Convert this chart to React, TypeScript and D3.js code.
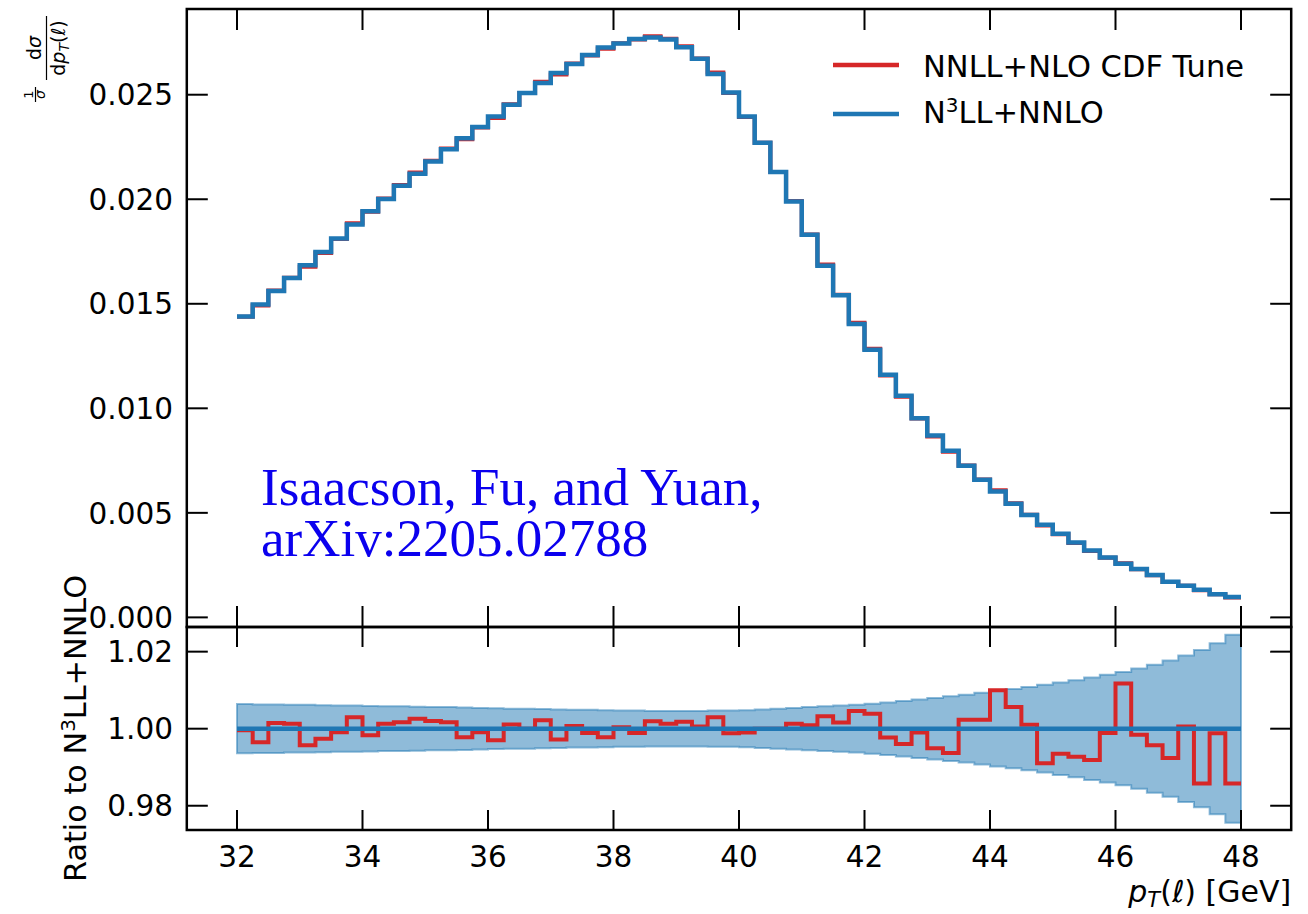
import React from 'react';
import * as d3 from 'd3';

// ---------- data ----------
const binStart = 32;
const binWidth = 0.25;

// N3LL+NNLO normalized distribution (1/sigma dsigma/dpT), one value per 0.25 GeV bin
const n3llNnlo = [
  0.01439, 0.01497, 0.01561, 0.01623, 0.01684, 0.01748, 0.01812, 0.01879,
  0.01943, 0.02001, 0.02065, 0.02122, 0.0218, 0.02239, 0.02292, 0.02345,
  0.02396, 0.02452, 0.02508, 0.02556, 0.02604, 0.02647, 0.0269, 0.02726,
  0.02745, 0.02767, 0.02774, 0.02764, 0.02727, 0.02672, 0.02599, 0.02511,
  0.02396, 0.0227, 0.0213, 0.01989, 0.0183, 0.01682, 0.01541, 0.01403,
  0.0128, 0.0116, 0.0106, 0.00952, 0.0087, 0.00797, 0.00725, 0.00658,
  0.00602, 0.00543, 0.0049, 0.00443, 0.004, 0.00358, 0.0032, 0.00286,
  0.00256, 0.00231, 0.00203, 0.00171, 0.00151, 0.00132, 0.00111, 0.00097,
];

// Ratio NNLL+NLO CDF Tune / N3LL+NNLO
const ratioCdf = [
  0.9996, 0.9965, 1.0015, 1.0013, 0.9957, 0.9974, 0.9991, 1.003,
  0.9983, 1.0013, 1.0017, 1.0026, 1.002, 1.0017, 0.9978, 0.9991,
  0.997, 1.0011, 1.0, 1.0022, 0.9972, 1.0007, 0.9989, 0.9978,
  1.0004, 0.9989, 1.0019, 1.0013, 1.0018, 1.0006, 1.003, 0.9988,
  0.999, 1.0, 1.0, 1.0013, 1.0009, 1.0032, 1.0016, 1.0046,
  1.0039, 0.9977, 0.996, 0.999, 0.9949, 0.9937, 1.0023, 1.0023,
  1.01, 1.0056, 1.001, 0.991, 0.9935, 0.9927, 0.9919, 0.9989,
  1.0117, 0.9984, 0.9957, 0.9924, 1.0006, 0.9858, 0.9988, 0.9858,
];

// Relative half-width of the N3LL+NNLO uncertainty band
const bandHalf = [
  0.0064, 0.0063, 0.0063, 0.0062, 0.0062, 0.0061, 0.006, 0.006,
  0.0059, 0.0058, 0.0058, 0.0057, 0.0056, 0.0056, 0.0055, 0.0054,
  0.0053, 0.0052, 0.0052, 0.0051, 0.005, 0.0049, 0.0049, 0.0048,
  0.0047, 0.0047, 0.0046, 0.0046, 0.0046, 0.0046, 0.0047, 0.0047,
  0.0048, 0.005, 0.0052, 0.0054, 0.0056, 0.0058, 0.006, 0.0062,
  0.0065, 0.0068, 0.0072, 0.0076, 0.008, 0.0084, 0.0088, 0.0093,
  0.0098, 0.0103, 0.0108, 0.0114, 0.012, 0.0126, 0.0133, 0.014,
  0.0147, 0.0156, 0.0166, 0.0177, 0.019, 0.0204, 0.0222, 0.0244,
];

const xTicks = [32, 34, 36, 38, 40, 42, 44, 46, 48];
const topYTicks = [0, 0.005, 0.01, 0.015, 0.02, 0.025];
const topYTickLabels = ['0.000', '0.005', '0.010', '0.015', '0.020', '0.025'];
const botYTicks = [0.98, 1.0, 1.02];
const botYTickLabels = ['0.98', '1.00', '1.02'];

const RED = '#d62728';
const BLUE = '#1f77b4';
const FONT = 'DejaVu Sans, sans-serif';

export default function App() {
  const W = 1308, H = 914;
  const left = 186.8, right = 1291.2;
  const topT = 9, topB = 627, botT = 627, botB = 830;

  const x = d3.scaleLinear().domain([31.2, 48.8]).range([left, right]);
  const yT = d3.scaleLinear().domain([-0.00046, 0.0291]).range([topB, topT]);
  const yB = d3.scaleLinear().domain([0.9737, 1.0264]).range([botB, botT]);

  const edges = d3.range(n3llNnlo.length + 1).map((i) => binStart + i * binWidth);
  const steps = (vals: number[]) =>
    vals.flatMap((v, i) => [[edges[i], v], [edges[i + 1], v]] as [number, number][]);

  const cdfTop = n3llNnlo.map((v, i) => v * ratioCdf[i]);

  const lineT = d3.line<[number, number]>().x((d) => x(d[0])).y((d) => yT(d[1]));
  const lineB = d3.line<[number, number]>().x((d) => x(d[0])).y((d) => yB(d[1]));
  const bandArea = d3
    .area<[number, number]>()
    .x((d) => x(d[0]))
    .y0((d) => yB(1 - d[1]))
    .y1((d) => yB(1 + d[1]));

  const ones = n3llNnlo.map(() => 1);
  const tickLen = 21;
  const tickFont = 29.5;

  return (
    <svg
      width={W}
      height={H}
      style={{ position: 'absolute', left: 0, top: 0, background: '#fff' }}
      fontFamily={FONT}
    >
      <rect x={0} y={0} width={W} height={H} fill="#fff" />

      {/* ---- top panel data ---- */}
      <path d={lineT(steps(cdfTop)) || ''} fill="none" stroke={RED} strokeWidth={4} />
      <path d={lineT(steps(n3llNnlo)) || ''} fill="none" stroke={BLUE} strokeWidth={4.5} />

      {/* ---- bottom panel data ---- */}
      <path
        d={bandArea(steps(bandHalf)) || ''}
        fill={BLUE}
        fillOpacity={0.5}
        stroke={BLUE}
        strokeOpacity={0.5}
        strokeWidth={2}
      />
      <path d={lineB(steps(ratioCdf)) || ''} fill="none" stroke={RED} strokeWidth={4} />
      <path d={lineB(steps(ones)) || ''} fill="none" stroke={BLUE} strokeWidth={4.5} />

      {/* ---- ticks ---- */}
      {xTicks.map((t) => (
        <g key={'xt' + t} stroke="#000" strokeWidth={2}>
          <line x1={x(t)} x2={x(t)} y1={topT} y2={topT + tickLen} />
          <line x1={x(t)} x2={x(t)} y1={topB} y2={topB - tickLen} />
          <line x1={x(t)} x2={x(t)} y1={botT} y2={botT + tickLen - 1} />
          <line x1={x(t)} x2={x(t)} y1={botB} y2={botB - tickLen + 1} />
        </g>
      ))}
      {topYTicks.map((t) => (
        <g key={'yt' + t} stroke="#000" strokeWidth={2}>
          <line x1={left} x2={left + tickLen} y1={yT(t)} y2={yT(t)} />
          <line x1={right} x2={right - tickLen} y1={yT(t)} y2={yT(t)} />
        </g>
      ))}
      {botYTicks.map((t) => (
        <g key={'yb' + t} stroke="#000" strokeWidth={2}>
          <line x1={left} x2={left + tickLen} y1={yB(t)} y2={yB(t)} />
          <line x1={right} x2={right - tickLen} y1={yB(t)} y2={yB(t)} />
        </g>
      ))}

      {/* ---- spines ---- */}
      <rect x={left} y={topT} width={right - left} height={topB - topT} fill="none" stroke="#000" strokeWidth={2.5} />
      <rect x={left} y={botT} width={right - left} height={botB - botT} fill="none" stroke="#000" strokeWidth={2.5} />

      {/* ---- tick labels ---- */}
      {topYTicks.map((t, i) => (
        <text key={'ytl' + t} x={173} y={yT(t) + 10.7} textAnchor="end" fontSize={tickFont} fill="#000">
          {topYTickLabels[i]}
        </text>
      ))}
      {botYTicks.map((t, i) => (
        <text key={'ybl' + t} x={173} y={yB(t) + 10.7} textAnchor="end" fontSize={tickFont} fill="#000">
          {botYTickLabels[i]}
        </text>
      ))}
      {xTicks.map((t) => (
        <text key={'xtl' + t} x={x(t)} y={867} textAnchor="middle" fontSize={tickFont} fill="#000">
          {t}
        </text>
      ))}

      {/* ---- axis labels ---- */}
      <text x={right} y={902} textAnchor="end" fontSize={30} fill="#000">
        <tspan fontStyle="italic">p</tspan>
        <tspan fontStyle="italic" fontSize={21} dy={5}>T</tspan>
        <tspan dy={-5}>(</tspan>
        <tspan fontStyle="italic">ℓ</tspan>
        <tspan>) [GeV]</tspan>
      </text>

      <text transform="translate(86,728.5) rotate(-90)" textAnchor="middle" fontSize={30.3} fill="#000">
        Ratio to N<tspan fontSize={20} dy={-11}>3</tspan>
        <tspan dy={11}>LL+NNLO</tspan>
      </text>

      <g transform="rotate(-90)" fill="#000">
        <text x={-94.5} y={33} textAnchor="middle" fontSize={13}>1</text>
        <line x1={-102} x2={-87} y1={35.5} y2={35.5} stroke="#000" strokeWidth={1.2} />
        <text x={-94.5} y={45} textAnchor="middle" fontSize={14} fontStyle="italic">σ</text>
        <text x={-48} y={41} textAnchor="middle" fontSize={19}>
          d<tspan fontStyle="italic">σ</tspan>
        </text>
        <line x1={-80} x2={-16} y1={46.5} y2={46.5} stroke="#000" strokeWidth={1.2} />
        <text x={-48} y={65} textAnchor="middle" fontSize={19}>
          d<tspan fontStyle="italic">p</tspan>
          <tspan fontStyle="italic" fontSize={14} dy={4}>T</tspan>
          <tspan dy={-4}>(</tspan>
          <tspan fontStyle="italic">ℓ</tspan>
          <tspan>)</tspan>
        </text>
      </g>

      {/* ---- legend ---- */}
      <line x1={833} x2={899} y1={65} y2={65} stroke={RED} strokeWidth={4.5} />
      <text x={923} y={76.5} fontSize={30.5} fill="#000">NNLL+NLO CDF Tune</text>
      <line x1={833} x2={899} y1={114} y2={114} stroke={BLUE} strokeWidth={4.5} />
      <text x={923} y={123} fontSize={30.5} fill="#000">
        N<tspan fontSize={20} dy={-11}>3</tspan>
        <tspan dy={11}>LL+NNLO</tspan>
      </text>

      {/* ---- annotation ---- */}
      <text x={261} y={505} fontFamily="Liberation Serif, Times New Roman, serif" fontSize={53} fill="#0b00ee">
        Isaacson, Fu, and Yuan,
      </text>
      <text x={261} y={556} fontFamily="Liberation Serif, Times New Roman, serif" fontSize={53} fill="#0b00ee">
        arXiv:2205.02788
      </text>
    </svg>
  );
}
